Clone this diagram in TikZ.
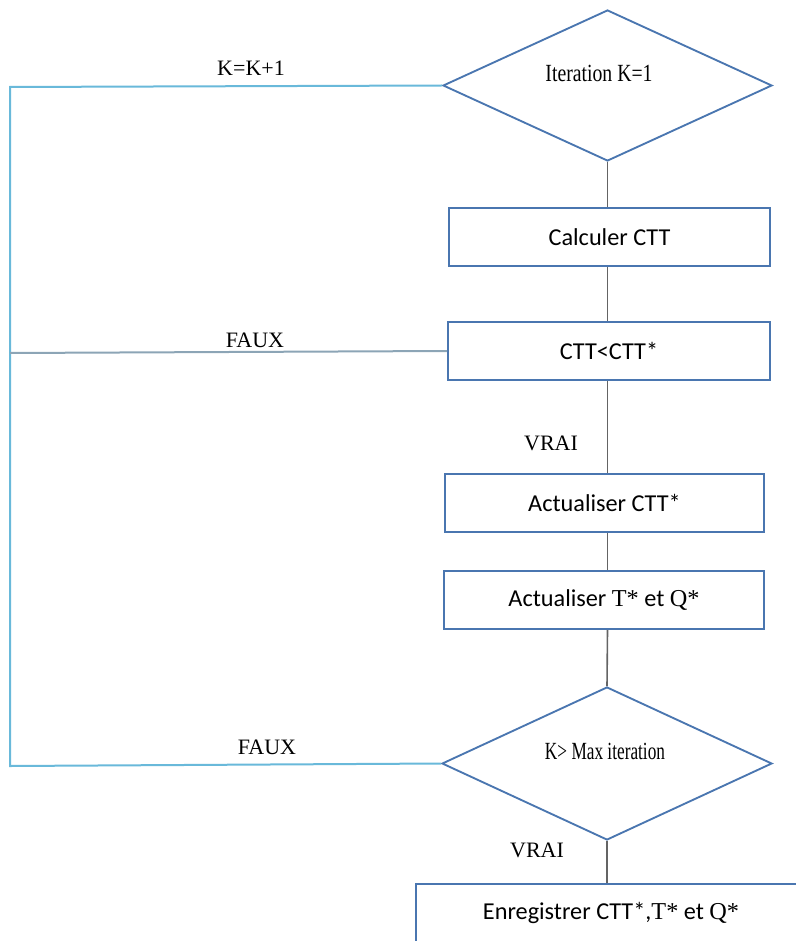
\documentclass[tikz,border=0pt]{standalone}
\usepackage{fontspec}
\setmainfont{Liberation Serif}
\newfontfamily\calfont{Carlito}
\usetikzlibrary{shapes.geometric}
\definecolor{boxblue}{RGB}{74,118,176}
\definecolor{loopblue}{RGB}{105,185,218}
\definecolor{fauxline}{RGB}{140,165,182}
\definecolor{conngray}{RGB}{100,100,100}
\newcommand{\serifpart}[1]{{\rmfamily #1}}
\begin{document}
\begin{tikzpicture}[x=0.75pt,y=-0.75pt,
  box/.style={draw=boxblue,line width=1.5pt,minimum height=43.5pt,inner sep=0pt,
    font=\calfont\fontsize{18.2}{21}\selectfont},
  dec/.style={diamond,draw=boxblue,line width=1.4pt,inner sep=0pt},
  dtext/.style={anchor=base,inner sep=0pt,font=\fontsize{18.5}{22}\selectfont},
  lab/.style={anchor=base,inner sep=0pt,font=\fontsize{16.5}{20}\selectfont},
  conn/.style={draw=conngray,line width=1.2pt},
  loopline/.style={draw=loopblue,line width=1.5pt},
  fauxline/.style={draw=fauxline,line width=1.5pt}]
\useasboundingbox (0,0) rectangle (795,941);
% decisions
\node[dec,minimum width=246.75pt,minimum height=113.25pt] (d1) at (607.5,85.5) {};
\node[dtext] (t1) at (599,82) {\scalebox{0.8}[1]{Iteration K=1}};
\node[dec,minimum width=247.5pt,minimum height=114.75pt] (d2) at (607,763.5) {};
\node[dtext] (t2) at (605,759) {\scalebox{0.7}[1]{K> Max iteration}};
% boxes
\node[box,minimum width=240.75pt] (b1) at (609.5,237) {Calculer CTT};
\node[box,minimum width=241.5pt] (b2) at (609,351) {CTT<CTT*};
\node[box,minimum width=239.25pt] (b3) at (604.5,503) {Actualiser CTT*};
\node[box,minimum width=240pt] (b4) at (604,600) {Actualiser \serifpart{T*} et \serifpart{Q*}};
\node[box,minimum width=292.5pt] (b5) at (611,913) {Enregistrer CTT*,\serifpart{T*} et \serifpart{Q*}};
% vertical connectors
\draw[conn] (d1.south) -- (d1.south |- b1.north);
\draw[conn] (d1.south |- b1.south) -- (d1.south |- b2.north);
\draw[conn] (d1.south |- b2.south) -- (d1.south |- b3.north);
\draw[conn] (d1.south |- b3.south) -- (d1.south |- b4.north);
\draw[conn] (d1.south |- b4.south) -- (d2.north);
\draw[conn] (d2.south) -- (d2.south |- b5.north);
% loop back
\coordinate (c1) at (10,87);
\coordinate (c2) at (10,353);
\coordinate (c3) at (10,766);
\draw[loopline] (d1.west) -- (c1) -- (c3) -- (d2.west);
\draw[fauxline] (b2.west) -- (c2);
% labels
\node[lab] (l1) at (251,76) {K=K+1};
\node[lab] (l2) at (255,347) {FAUX};
\node[lab] (l3) at (551,450) {VRAI};
\node[lab] (l4) at (267,754) {FAUX};
\node[lab] (l5) at (537,857) {VRAI};
\end{tikzpicture}
\end{document}
